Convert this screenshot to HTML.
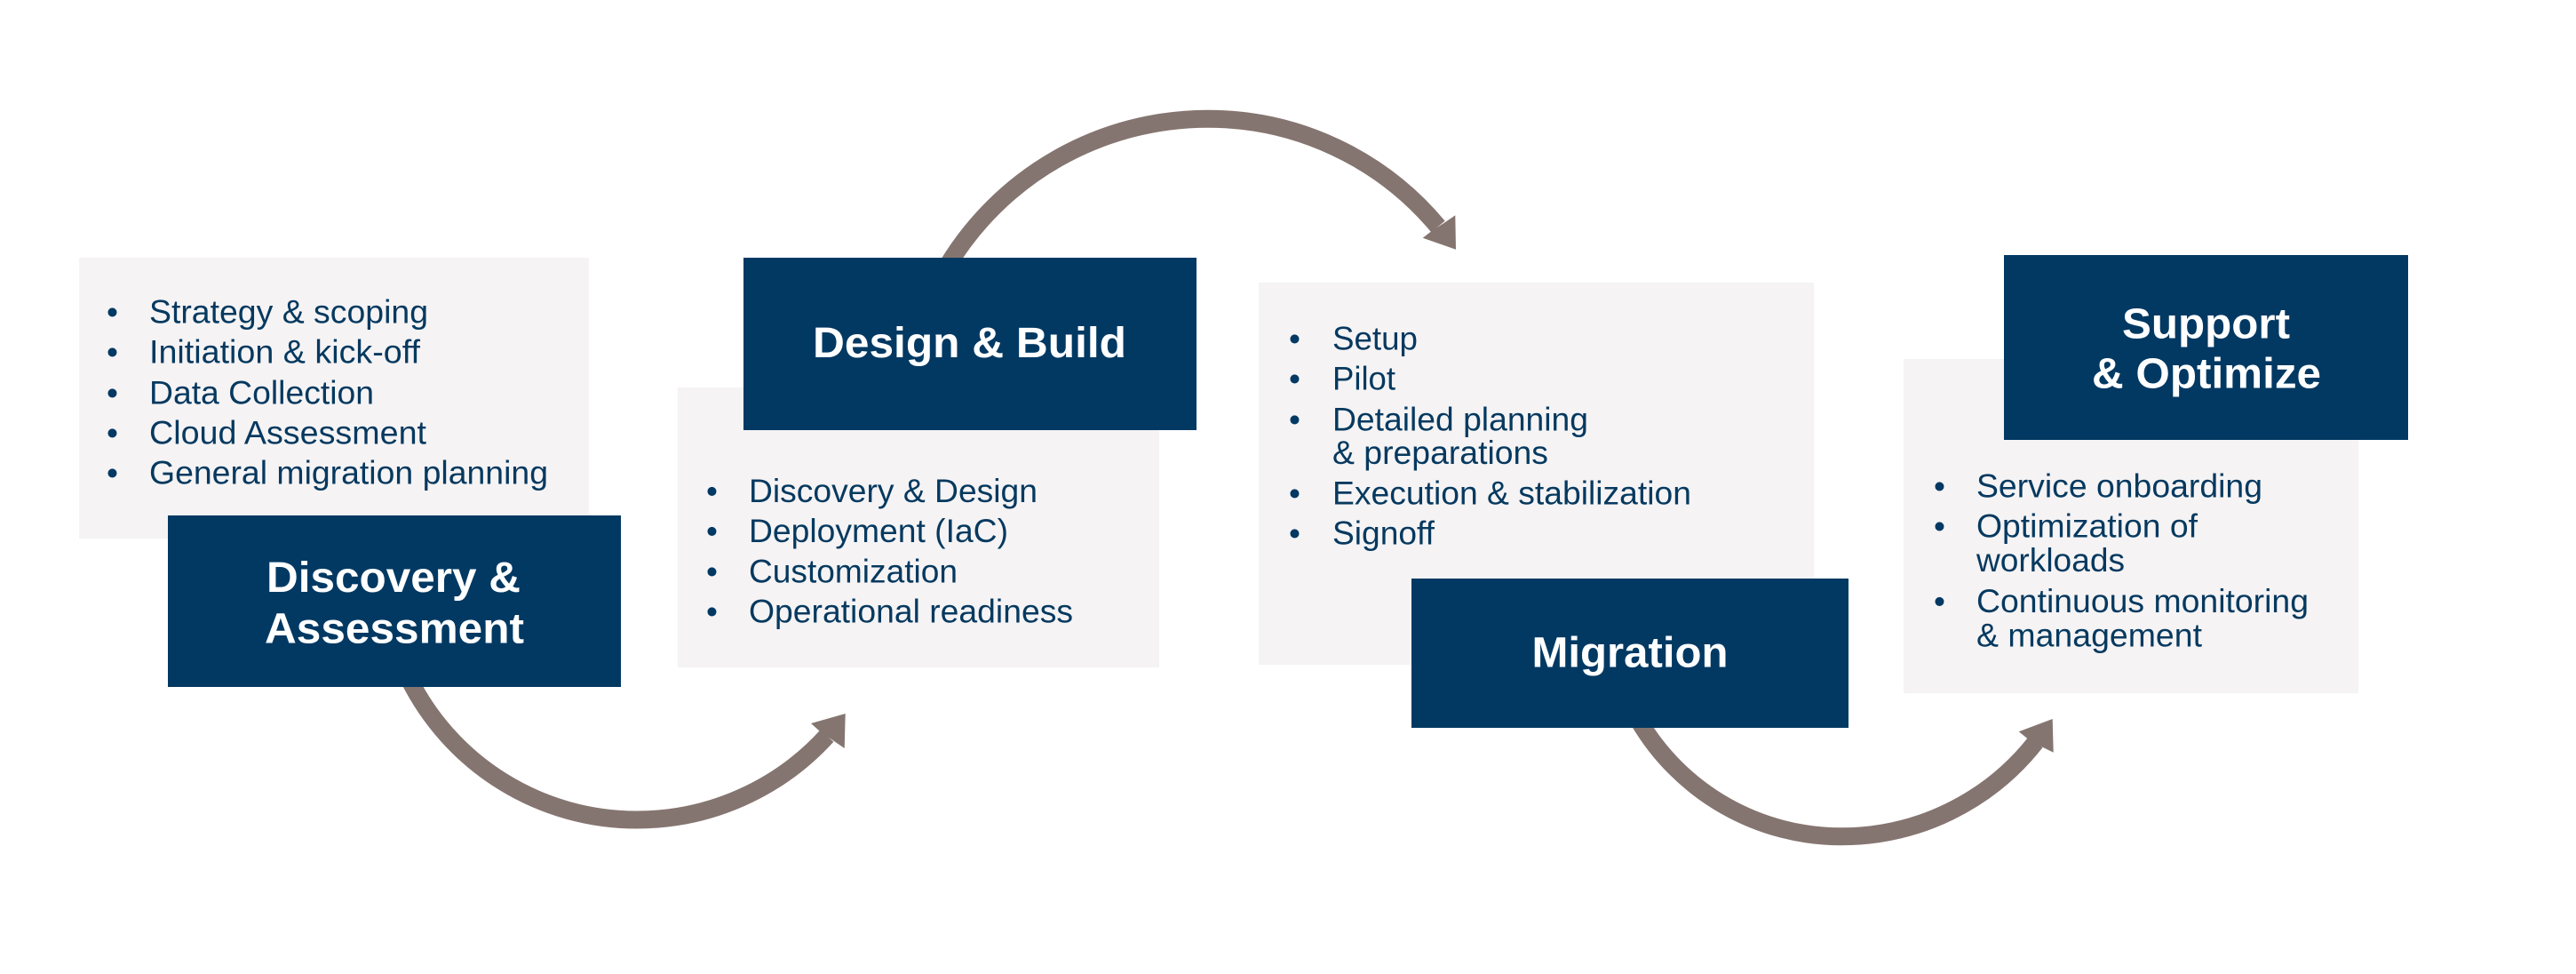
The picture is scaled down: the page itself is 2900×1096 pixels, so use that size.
<!DOCTYPE html>
<html><head><meta charset="utf-8"><style>
html,body{margin:0;padding:0;background:#fff;width:2900px;height:1096px;overflow:hidden}
svg{display:block}
text{font-family:"Liberation Sans",Arial,sans-serif}
.t{font-size:37px;fill:#06395f;transform:translateY(.5px)}
.b{font-size:37px;fill:#023963;text-anchor:middle;transform:translate(.5px,1px)}
.h{font-size:48px;font-weight:bold;fill:#fff;transform:translateY(.5px)}
.p{fill:#f5f3f4}.n{fill:#023963}
.a{fill:none;stroke:#857570;stroke-width:20}
.ah{fill:#857570}
</style></head><body>
<svg width="2900" height="1096" viewBox="0 0 2900 1096" xmlns="http://www.w3.org/2000/svg">
<rect class="p" x="89" y="290" width="574" height="316"/>
<rect class="p" x="763" y="436" width="542" height="315"/>
<rect class="p" x="1417" y="318" width="625" height="430"/>
<rect class="p" x="2143" y="404" width="512" height="376"/>

<path class="a" d="M460 763A286.6 286.6 0 0 0 717 922.5A289.6 289.6 0 0 0 931 828"/>
<polygon class="ah" points="951.7,803 913,814 923,823 939,834 950.7,842"/>
<path class="a" d="M1066 300A342.6 342.6 0 0 1 1360 133.7A337 337 0 0 1 1619 255"/>
<polygon class="ah" points="1639,280.7 1601.7,267.7 1610.7,260.7 1627,250 1638.3,242.3"/>
<path class="a" d="M1845 811A264.5 264.5 0 0 0 2073 941.3A278.1 278.1 0 0 0 2291.7 835"/>
<polygon class="ah" points="2310.7,809 2272.7,823.3 2283.3,831.7 2300,841 2311.7,846.7"/>

<rect class="n" x="189" y="580" width="510" height="193"/>
<rect class="n" x="837" y="290" width="510" height="194"/>
<rect class="n" x="1589" y="651" width="492" height="168"/>
<rect class="n" x="2256" y="287" width="455" height="208"/>

<text class="b" x="126" y="363">•</text><text class="t" x="168" y="363" textLength="314" lengthAdjust="spacingAndGlyphs">Strategy &amp; scoping</text>
<text class="b" x="126" y="408">•</text><text class="t" x="168" y="408" textLength="305" lengthAdjust="spacingAndGlyphs">Initiation &amp; kick-off</text>
<text class="b" x="126" y="454">•</text><text class="t" x="168" y="454" textLength="253" lengthAdjust="spacingAndGlyphs">Data Collection</text>
<text class="b" x="126" y="499">•</text><text class="t" x="168" y="499" textLength="312" lengthAdjust="spacingAndGlyphs">Cloud Assessment</text>
<text class="b" x="126" y="544">•</text><text class="t" x="168" y="544" textLength="449" lengthAdjust="spacingAndGlyphs">General migration planning</text>

<text class="b" x="801" y="564.5">•</text><text class="t" x="843" y="564.5" textLength="325" lengthAdjust="spacingAndGlyphs">Discovery &amp; Design</text>
<text class="b" x="801" y="609.5">•</text><text class="t" x="843" y="609.5" textLength="292" lengthAdjust="spacingAndGlyphs">Deployment (IaC)</text>
<text class="b" x="801" y="655">•</text><text class="t" x="843" y="655" textLength="235" lengthAdjust="spacingAndGlyphs">Customization</text>
<text class="b" x="801" y="700">•</text><text class="t" x="843" y="700" textLength="365" lengthAdjust="spacingAndGlyphs">Operational readiness</text>

<text class="b" x="1457" y="393">•</text><text class="t" x="1500" y="393" textLength="96" lengthAdjust="spacingAndGlyphs">Setup</text>
<text class="b" x="1457" y="438">•</text><text class="t" x="1500" y="438" textLength="71" lengthAdjust="spacingAndGlyphs">Pilot</text>
<text class="b" x="1457" y="484">•</text><text class="t" x="1500" y="484" textLength="288" lengthAdjust="spacingAndGlyphs">Detailed planning</text>
<text class="t" x="1500" y="521.5" textLength="243" lengthAdjust="spacingAndGlyphs">&amp; preparations</text>
<text class="b" x="1457" y="567">•</text><text class="t" x="1500" y="567" textLength="404" lengthAdjust="spacingAndGlyphs">Execution &amp; stabilization</text>
<text class="b" x="1457" y="612">•</text><text class="t" x="1500" y="612" textLength="115" lengthAdjust="spacingAndGlyphs">Signoff</text>

<text class="b" x="2183" y="559">•</text><text class="t" x="2225" y="559" textLength="322" lengthAdjust="spacingAndGlyphs">Service onboarding</text>
<text class="b" x="2183" y="604">•</text><text class="t" x="2225" y="604" textLength="249" lengthAdjust="spacingAndGlyphs">Optimization of</text>
<text class="t" x="2225" y="642.5" textLength="167" lengthAdjust="spacingAndGlyphs">workloads</text>
<text class="b" x="2183" y="688.5">•</text><text class="t" x="2225" y="688.5" textLength="374" lengthAdjust="spacingAndGlyphs">Continuous monitoring</text>
<text class="t" x="2225" y="727" textLength="254" lengthAdjust="spacingAndGlyphs">&amp; management</text>

<text class="h" x="300" y="665.5" textLength="286" lengthAdjust="spacingAndGlyphs">Discovery &amp;</text>
<text class="h" x="298" y="723" textLength="292" lengthAdjust="spacingAndGlyphs">Assessment</text>
<text class="h" x="915" y="401.5" textLength="353" lengthAdjust="spacingAndGlyphs">Design &amp; Build</text>
<text class="h" x="1724.5" y="750" textLength="221" lengthAdjust="spacingAndGlyphs">Migration</text>
<text class="h" x="2389" y="380" textLength="189" lengthAdjust="spacingAndGlyphs">Support</text>
<text class="h" x="2355" y="436" textLength="258" lengthAdjust="spacingAndGlyphs">&amp; Optimize</text>
</svg>
</body></html>
